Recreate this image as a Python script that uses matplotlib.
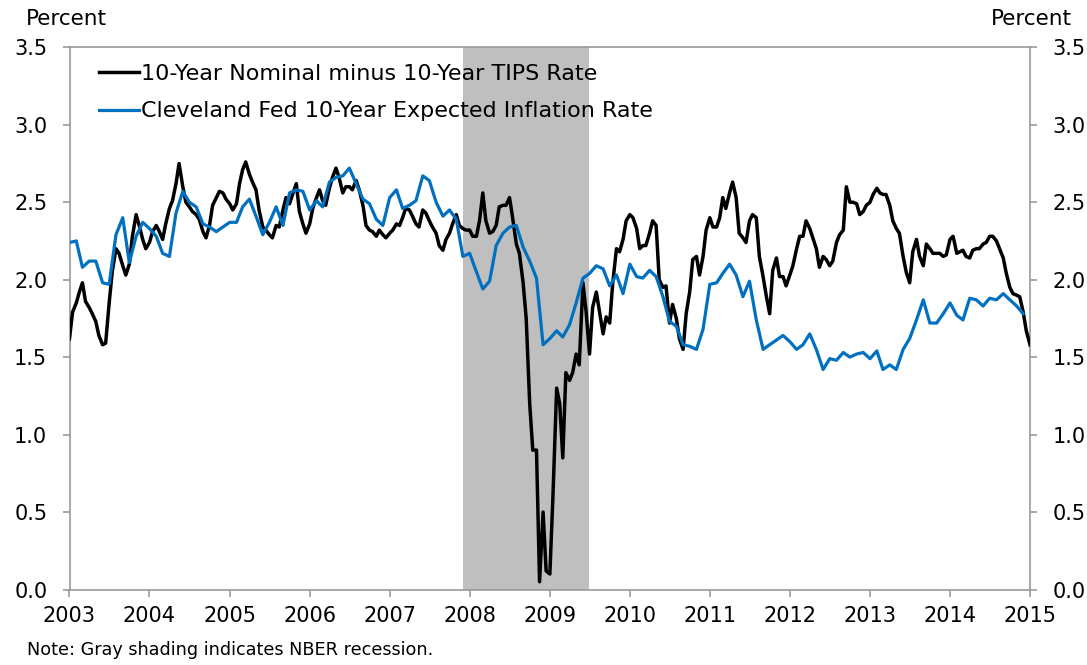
import numpy as np
import pandas as pd
import matplotlib
matplotlib.use("Agg")
import matplotlib.pyplot as plt

plt.rcParams["font.family"] = ["DejaVu Sans"]

# ── Data ─────────────────────────────────────────────────────────────────────
# 10-year nominal minus 10-year TIPS, sampled twice a month (1st / 15th)
breakeven_start = "2003-01-01"
breakeven = [
    # 2003
    1.62, 1.79, 1.85, 1.92, 1.98, 1.86, 1.82, 1.78, 1.73, 1.64, 1.58, 1.59,
    1.85, 2.05, 2.20, 2.17, 2.09, 2.03, 2.10, 2.28, 2.42, 2.35, 2.26, 2.20,
    # 2004
    2.24, 2.31, 2.35, 2.31, 2.26, 2.36, 2.46, 2.51, 2.62, 2.75, 2.60, 2.50,
    2.47, 2.44, 2.42, 2.39, 2.31, 2.27, 2.35, 2.48, 2.53, 2.57, 2.56, 2.52,
    # 2005
    2.49, 2.45, 2.49, 2.62, 2.71, 2.76, 2.68, 2.63, 2.58, 2.45, 2.34, 2.32,
    2.29, 2.27, 2.35, 2.34, 2.45, 2.53, 2.49, 2.55, 2.62, 2.44, 2.36, 2.30,
    # 2006
    2.36, 2.46, 2.53, 2.58, 2.51, 2.48, 2.59, 2.66, 2.72, 2.66, 2.56, 2.60,
    2.60, 2.58, 2.64, 2.58, 2.48, 2.35, 2.32, 2.31, 2.28, 2.32, 2.29, 2.27,
    # 2007
    2.30, 2.32, 2.36, 2.35, 2.40, 2.46, 2.45, 2.41, 2.36, 2.34, 2.45, 2.43,
    2.38, 2.34, 2.30, 2.22, 2.19, 2.26, 2.30, 2.36, 2.42, 2.35, 2.33, 2.32,
    # 2008
    2.32, 2.28, 2.28, 2.38, 2.56, 2.38, 2.30, 2.31, 2.35, 2.47, 2.48, 2.48,
    2.53, 2.40, 2.23, 2.17, 1.98, 1.75, 1.20, 0.90, 0.90, 0.05, 0.50, 0.12,
    # 2009
    0.10, 0.60, 1.30, 1.20, 0.85, 1.40, 1.35, 1.40, 1.52, 1.45, 1.98, 1.80,
    1.52, 1.82, 1.92, 1.80, 1.65, 1.76, 1.72, 1.98, 2.20, 2.18, 2.26, 2.38,
    # 2010
    2.42, 2.40, 2.33, 2.20, 2.22, 2.22, 2.30, 2.38, 2.35, 2.00, 1.95, 1.96,
    1.72, 1.84, 1.75, 1.62, 1.55, 1.78, 1.92, 2.13, 2.15, 2.03, 2.15, 2.32,
    # 2011
    2.40, 2.34, 2.34, 2.40, 2.53, 2.46, 2.56, 2.63, 2.53, 2.30, 2.27, 2.24,
    2.38, 2.42, 2.40, 2.15, 2.02, 1.90, 1.78, 2.06, 2.14, 2.02, 2.02, 1.96,
    # 2012
    2.03, 2.09, 2.20, 2.28, 2.28, 2.38, 2.33, 2.27, 2.20, 2.08, 2.15, 2.13,
    2.09, 2.12, 2.24, 2.29, 2.32, 2.60, 2.50, 2.50, 2.49, 2.42, 2.44, 2.48,
    # 2013
    2.50, 2.55, 2.59, 2.56, 2.55, 2.55, 2.48, 2.38, 2.33, 2.30, 2.15, 2.05,
    1.98, 2.18, 2.26, 2.15, 2.09, 2.23, 2.20, 2.17, 2.17, 2.17, 2.15, 2.16,
    # 2014
    2.26, 2.28, 2.17, 2.18, 2.19, 2.15, 2.14, 2.19, 2.20, 2.20, 2.23, 2.24,
    2.28, 2.28, 2.25, 2.20, 2.14, 2.04, 1.95, 1.91, 1.90, 1.89, 1.79, 1.67,
    # 2015
    1.58,
]

# Cleveland Fed 10-year expected inflation, monthly
cleveland_start = "2003-01-01"
cleveland = [
    2.24, 2.25, 2.08, 2.12, 2.12, 1.98, 1.97, 2.29, 2.40, 2.11, 2.28, 2.37,  # 2003
    2.33, 2.28, 2.17, 2.15, 2.43, 2.57, 2.50, 2.47, 2.36, 2.34, 2.31, 2.34,  # 2004
    2.37, 2.37, 2.47, 2.52, 2.41, 2.29, 2.37, 2.47, 2.35, 2.56, 2.58, 2.57,  # 2005
    2.45, 2.51, 2.47, 2.63, 2.66, 2.67, 2.72, 2.62, 2.52, 2.49, 2.39, 2.35,  # 2006
    2.53, 2.58, 2.46, 2.48, 2.51, 2.67, 2.64, 2.50, 2.41, 2.45, 2.39, 2.15,  # 2007
    2.17, 2.05, 1.94, 1.99, 2.22, 2.30, 2.34, 2.35, 2.21, 2.12, 2.01, 1.58,  # 2008
    1.62, 1.67, 1.63, 1.71, 1.85, 2.01, 2.04, 2.09, 2.07, 1.96, 2.03, 1.91,  # 2009
    2.10, 2.02, 2.01, 2.06, 2.02, 1.89, 1.73, 1.70, 1.58, 1.57, 1.55, 1.68,  # 2010
    1.97, 1.98, 2.04, 2.10, 2.03, 1.89, 1.99, 1.74, 1.55, 1.58, 1.61, 1.64,  # 2011
    1.60, 1.55, 1.58, 1.65, 1.55, 1.42, 1.49, 1.48, 1.53, 1.50, 1.52, 1.53,  # 2012
    1.49, 1.54, 1.42, 1.45, 1.42, 1.55, 1.62, 1.74, 1.87, 1.72, 1.72, 1.78,  # 2013
    1.85, 1.77, 1.74, 1.88, 1.87, 1.83, 1.88, 1.87, 1.91, 1.87, 1.83, 1.78,  # 2014
]

recession = ("2007-12-01", "2009-06-30")
year_ticks = list(range(2003, 2016))
y_ticks = [0.0, 0.5, 1.0, 1.5, 2.0, 2.5, 3.0, 3.5]

label_be = "10-Year Nominal minus 10-Year TIPS Rate"
label_cl = "Cleveland Fed 10-Year Expected Inflation Rate"

# ── Figure ───────────────────────────────────────────────────────────────────
be_dates = pd.date_range(breakeven_start, periods=len(breakeven), freq="SMS")
cl_dates = pd.date_range(cleveland_start, periods=len(cleveland), freq="MS")

fig = plt.figure(figsize=(10.87, 6.65), dpi=100)
ax = fig.add_axes([69.5 / 1087, 1 - 589.5 / 665, 960.5 / 1087, 542.2 / 665])

ax.axvspan(pd.Timestamp(recession[0]), pd.Timestamp(recession[1]),
           color="#BFBFBF", lw=0, zorder=1)
ax.plot(be_dates, breakeven, color="black", lw=2.5, label=label_be, zorder=3)
ax.plot(cl_dates, cleveland, color="#0070C0", lw=2.3, label=label_cl, zorder=4)

ax.set_xlim(pd.Timestamp("2003-01-01"), pd.Timestamp("2015-01-01"))
ax.set_ylim(0, 3.5)
ax.set_xticks([pd.Timestamp(f"{y}-01-01") for y in year_ticks])
ax.set_xticklabels([str(y) for y in year_ticks])
ax.set_yticks(y_ticks)
ax.set_yticklabels([f"{v:.1f}" for v in y_ticks])

spine_c = "#999999"
for s in ax.spines.values():
    s.set_color(spine_c)
    s.set_linewidth(1.2)
ax.tick_params(axis="both", colors=spine_c, labelcolor="black",
               labelsize=15, length=5, width=1.2, direction="out")
ax.tick_params(axis="y", right=True, labelright=True, pad=11)
ax.tick_params(axis="x", pad=7)

ax.legend(loc="upper left", bbox_to_anchor=(0.031, 0.969), frameon=False,
          fontsize=16, handlelength=1.8, handletextpad=0.1,
          labelspacing=0.78, borderpad=0, borderaxespad=0)

fig.text(26 / 1087, 1 - 19 / 665, "Percent", fontsize=15.5, va="center", ha="left")
fig.text(1072 / 1087, 1 - 19 / 665, "Percent", fontsize=15.5, va="center", ha="right")
fig.text(27 / 1087, 1 - 650 / 665, "Note: Gray shading indicates NBER recession.",
         fontsize=12.7, va="center", ha="left")

fig.savefig("out.png", dpi=100)
plt.close(fig)
